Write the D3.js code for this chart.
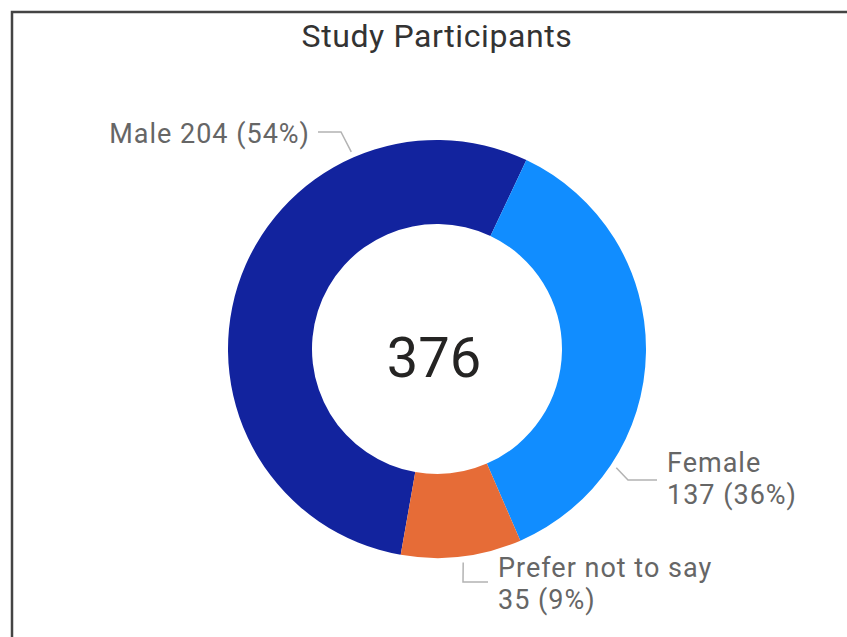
<!DOCTYPE html>
<html>
<head>
<meta charset="utf-8">
<script src="https://cdn.jsdelivr.net/npm/d3@7"></script>
<style>
  html, body { margin: 0; padding: 0; background: #ffffff; overflow: hidden; }
  svg { display: block; }
</style>
</head>
<body>
<svg id="chart" width="847" height="637"></svg>
<script>
// ---- data ----
const categories = ["Male", "Female", "Prefer not to say"];
const counts = [204, 137, 35];
const percentLabels = ["54%", "36%", "9%"];
const colors = ["#12239E", "#118DFF", "#E66C37"];
const chartTitle = "Study Participants";

// ---- layout ----
const cx = 437, cy = 349;
const outerR = 209, innerR = 125;
const startAngleDeg = -170;
const fontFamily = "Roboto, 'DejaVu Sans', sans-serif";

const svg = d3.select("#chart");

// panel border (runs off the right and bottom edges)
svg.append("path")
  .attr("d", "M12,700 L12,12 L900,12")
  .attr("fill", "none")
  .attr("stroke", "#444444")
  .attr("stroke-width", 2.5);

// title
svg.append("text")
  .attr("x", cx).attr("y", 47)
  .attr("text-anchor", "middle")
  .attr("font-family", fontFamily)
  .attr("font-size", 32)
  .attr("letter-spacing", 0.6)
  .attr("fill", "#333333")
  .text(chartTitle);

const data = categories.map((c, i) => ({ name: c, value: counts[i], pct: percentLabels[i], color: colors[i] }));

const pie = d3.pie()
  .sort(null)
  .value(d => d.value)
  .startAngle(startAngleDeg * Math.PI / 180)
  .endAngle((startAngleDeg + 360) * Math.PI / 180);

const arcs = pie(data);
const arcGen = d3.arc().innerRadius(innerR).outerRadius(outerR);

const g = svg.append("g").attr("transform", `translate(${cx},${cy})`);

g.selectAll("path.slice")
  .data(arcs)
  .enter().append("path")
  .attr("class", "slice")
  .attr("d", arcGen)
  .attr("fill", d => d.data.color);

// centre total
const total = d3.sum(counts);
g.append("text")
  .attr("x", -3).attr("y", 28)
  .attr("text-anchor", "middle")
  .attr("font-family", fontFamily)
  .attr("font-size", 56)
  .attr("fill", "#252423")
  .text(d3.format("d")(total));

// ---- labels with leader lines ----
// leader start angle (deg clockwise from top), elbow / end points and
// first-line text anchor, all relative to the chart centre
const labelLayout = {
  "Male": { angle: 336.5, elbow: [-96, -217], end: [-119, -217], text: [-127, -206], anchor: "end", lines: d => [`${d.name} ${d.value} (${d.pct})`] },
  "Female": { angle: 123.5, elbow: [191, 131], end: [220, 131], text: [230, 123], anchor: "start", lines: d => [d.name, `${d.value} (${d.pct})`] },
  "Prefer not to say": { angle: 173, elbow: [26, 233], end: [51, 233], text: [61, 228], anchor: "start", lines: d => [d.name, `${d.value} (${d.pct})`] }
};
const leaderR = outerR + 6;
const lineGap = 32;

arcs.forEach(a => {
  const L = labelLayout[a.data.name];
  const ang = L.angle * Math.PI / 180;
  const p0 = [Math.sin(ang) * leaderR, -Math.cos(ang) * leaderR];
  g.append("polyline")
    .attr("points", [p0, L.elbow, L.end].map(p => p.join(",")).join(" "))
    .attr("fill", "none")
    .attr("stroke", "#b3b3b3")
    .attr("stroke-width", 1.5);
  const t = g.append("text")
    .attr("font-family", fontFamily)
    .attr("font-size", 27)
    .attr("letter-spacing", 1)
    .attr("fill", "#666666")
    .attr("text-anchor", L.anchor);
  L.lines(a.data).forEach((s, i) => {
    t.append("tspan")
      .attr("x", L.text[0])
      .attr("y", L.text[1] + i * lineGap)
      .text(s);
  });
});
</script>
</body>
</html>
